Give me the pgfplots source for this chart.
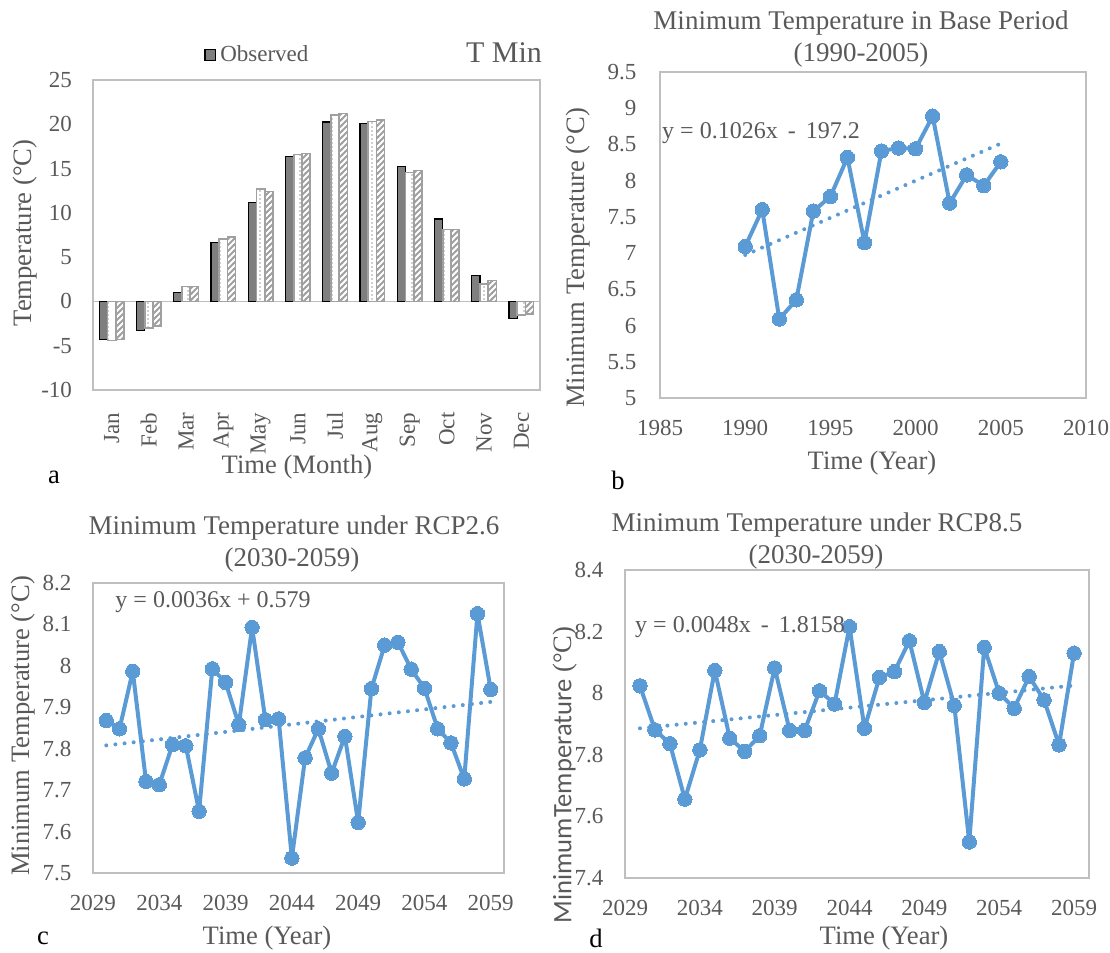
\documentclass[border=0pt]{standalone}
\usepackage{fontspec}
\setmainfont{Liberation Serif}
\newfontfamily\carlito{Carlito}
\usepackage{pgfplots}
\pgfplotsset{compat=1.18}
\usetikzlibrary{patterns}

\definecolor{xlblue}{RGB}{91,155,213}
\definecolor{txt}{RGB}{89,89,89}
\definecolor{framec}{RGB}{191,191,191}
\definecolor{obsfill}{RGB}{127,127,127}
\definecolor{patgray}{RGB}{160,160,160}

\pgfdeclarepatternformonly{vdotcol}{\pgfqpoint{-0.5pt}{-0.5pt}}{\pgfqpoint{4.5pt}{2.5pt}}{\pgfqpoint{4pt}{2pt}}{\pgfpathcircle{\pgfqpoint{2pt}{1pt}}{0.4pt}\pgfusepath{fill}}
\pgfdeclarepatternformonly{diagthick}{\pgfqpoint{-1pt}{-1pt}}{\pgfqpoint{4pt}{4pt}}{\pgfqpoint{3pt}{3pt}}{\pgfsetlinewidth{0.9pt}\pgfpathmoveto{\pgfqpoint{-0.3pt}{-0.3pt}}\pgfpathlineto{\pgfqpoint{3.3pt}{3.3pt}}\pgfusepath{stroke}}

\pgfplotsset{
  panel/.style={
    scale only axis,
    axis line style={draw=framec, line width=0.7pt},
    tick style={draw=none},
    ticklabel style={font=\fontsize{11.5}{13}\selectfont, text=txt},
    /pgf/number format/assume math mode=true,
    xticklabel style={/pgf/number format/1000 sep={}},
  },
  yearline/.style={color=xlblue, line width=2pt, line join=round, mark=*, mark size=3.6pt, mark options={fill=xlblue, draw=xlblue, line width=0pt}},
  trend/.style={color=xlblue, line width=2pt, line cap=round, dash pattern=on 0pt off 4.6pt},
}

\newcommand{\ttl}{\fontsize{13.5}{15}\selectfont}
\newcommand{\lbl}{\fontsize{13.3}{15}\selectfont}
\newcommand{\eqf}{\fontsize{12}{14}\selectfont}

\begin{document}
\begin{tikzpicture}
\useasboundingbox (0,0) rectangle (555pt,476.5pt);

% ---------------- Panel a ----------------
\begin{axis}[panel,
  at={(46.5pt,281.5pt)}, anchor=south west,
  width=223.5pt, height=155pt,
  ymin=-10, ymax=25, ytick={-10,-5,0,5,10,15,20,25},
  xmin=-0.5, xmax=11.5, xtick={0,...,11},
  xticklabels={Jan,Feb,Mar,Apr,May,Jun,Jul,Aug,Sep,Oct,Nov,Dec},
  xticklabel style={rotate=90, anchor=east, yshift=0pt, xshift=-3.5pt},
  yticklabel style={xshift=-7pt},
  ybar=0pt, bar width=4.1pt,
  extra y ticks={0}, extra y tick labels={},
  extra y tick style={grid=major, major grid style={draw=framec, line width=0.7pt}},
  legend style={at={(axis description cs:0.37,1.081)}, anchor=center, draw=none, fill=none,
    font=\fontsize{11.5}{13}\selectfont, text=txt, inner sep=0pt},
  legend image code/.code={\draw[#1] (0pt,-2.7pt) rectangle (5.4pt,2.7pt);},
]
\addplot[fill=obsfill, draw=black, line width=0.6pt] coordinates {
(0,-4.3) (1,-3.3) (2,1.0) (3,6.65) (4,11.2) (5,16.35) (6,20.25) (7,20.1) (8,15.2) (9,9.3) (10,2.9) (11,-1.95)};
\addlegendentry{Observed}
\addplot[draw=patgray, line width=0.8pt, pattern=vdotcol, pattern color=patgray] coordinates {
(0,-4.4) (1,-3.0) (2,1.7) (3,7.05) (4,12.7) (5,16.6) (6,21.05) (7,20.3) (8,14.55) (9,8.1) (10,2.0) (11,-1.5)};
\addplot[draw=patgray, line width=0.8pt, pattern=diagthick, pattern color=patgray] coordinates {
(0,-4.3) (1,-2.8) (2,1.7) (3,7.3) (4,12.4) (5,16.7) (6,21.2) (7,20.5) (8,14.8) (9,8.1) (10,2.35) (11,-1.4)};
\end{axis}
\node[text=txt, font=\fontsize{15}{17}\selectfont] at (252pt,450pt) {T Min};
\node[text=txt, font=\lbl] at (148.5pt,243pt) {Time (Month)};
\node[text=txt, font=\lbl, rotate=90] at (12.5pt,360pt) {Temperature (°C)};
\node[text=black, font=\lbl] at (27pt,238pt) {a};

% ---------------- Panel b ----------------
\begin{axis}[panel,
  at={(330pt,277.5pt)}, anchor=south west,
  width=213pt, height=163pt,
  xmin=1985, xmax=2010, xtick={1985,1990,1995,2000,2005,2010},
  ymin=5, ymax=9.5, ytick={5,5.5,6,6.5,7,7.5,8,8.5,9,9.5},
  yticklabel style={xshift=-8.3pt},
  xticklabel style={yshift=-7.7pt},
]
\addplot[trend] coordinates {(1990,6.974) (2005,8.513)};
\addplot[yearline] coordinates {
(1990,7.09) (1991,7.60) (1992,6.09) (1993,6.355) (1994,7.58) (1995,7.78) (1996,8.32) (1997,7.145)
(1998,8.41) (1999,8.45) (2000,8.44) (2001,8.89) (2002,7.69) (2003,8.08) (2004,7.93) (2005,8.26)};
\end{axis}
\node[text=txt, font=\ttl] at (430.5pt,465pt) {Minimum Temperature in Base Period};
\node[text=txt, font=\ttl] at (430.5pt,449pt) {(1990-2005)};
\node[text=txt, font=\lbl] at (436pt,245pt) {Time (Year)};
\node[text=txt, font=\lbl, rotate=90] at (289pt,347.5pt) {Minimum Temperature (°C)};
\node[text=black, font=\lbl] at (309pt,236.5pt) {b};
\node[text=txt, font=\eqf] at (380.5pt,410pt) {y = 0.1026x \,-\, 197.2};

% ---------------- Panel c ----------------
\begin{axis}[panel,
  at={(46.5pt,40pt)}, anchor=south west,
  width=205.5pt, height=145pt,
  xmin=2029, xmax=2060, xtick={2029,2034,2039,2044,2049,2054,2059},
  ymin=7.5, ymax=8.2, ytick={7.5,7.6,7.7,7.8,7.9,8,8.1,8.2},
  yticklabel style={xshift=-7.3pt},
  xticklabel style={yshift=-7.7pt},
]
\addplot[trend] coordinates {(2030,7.808) (2059,7.913)};
\addplot[yearline] coordinates {
(2030,7.868) (2031,7.848) (2032,7.987) (2033,7.721) (2034,7.713) (2035,7.810) (2036,7.807) (2037,7.649)
(2038,7.993) (2039,7.960) (2040,7.858) (2041,8.093) (2042,7.870) (2043,7.872) (2044,7.536) (2045,7.778)
(2046,7.848) (2047,7.741) (2048,7.830) (2049,7.622) (2050,7.945) (2051,8.050) (2052,8.057) (2053,7.992)
(2054,7.946) (2055,7.848) (2056,7.814) (2057,7.727) (2058,8.126) (2059,7.943)};
\end{axis}
\node[text=txt, font=\ttl] at (147pt,212.5pt) {Minimum Temperature under RCP2.6};
\node[text=txt, font=\ttl] at (146pt,196.5pt) {(2030-2059)};
\node[text=txt, font=\lbl] at (133.5pt,7.5pt) {Time (Year)};
\node[text=txt, font=\lbl, rotate=90] at (11.5pt,113.5pt) {Minimum Temperature (°C)};
\node[text=black, font=\lbl] at (21.5pt,7.5pt) {c};
\node[text=txt, font=\eqf] at (106.5pt,175.5pt) {y = 0.0036x + 0.579};

% ---------------- Panel d ----------------
\begin{axis}[panel,
  at={(312.5pt,37.5pt)}, anchor=south west,
  width=232pt, height=154pt,
  xmin=2029, xmax=2060, xtick={2029,2034,2039,2044,2049,2054,2059},
  ymin=7.4, ymax=8.4, ytick={7.4,7.6,7.8,8,8.2,8.4},
  yticklabel style={xshift=-7.3pt},
  xticklabel style={yshift=-7.7pt},
]
\addplot[trend] coordinates {(2030,7.886) (2059,8.025)};
\addplot[yearline] coordinates {
(2030,8.024) (2031,7.881) (2032,7.836) (2033,7.656) (2034,7.816) (2035,8.074) (2036,7.854) (2037,7.811)
(2038,7.862) (2039,8.082) (2040,7.879) (2041,7.879) (2042,8.008) (2043,7.965) (2044,8.216) (2045,7.886)
(2046,8.051) (2047,8.070) (2048,8.170) (2049,7.970) (2050,8.135) (2051,7.960) (2052,7.517) (2053,8.149)
(2054,8.000) (2055,7.951) (2056,8.054) (2057,7.978) (2058,7.832) (2059,8.130)};
\end{axis}
\node[text=txt, font=\ttl] at (408.5pt,214pt) {Minimum Temperature under RCP8.5};
\node[text=txt, font=\ttl] at (408pt,198pt) {(2030-2059)};
\node[text=txt, font=\lbl] at (442pt,7.5pt) {Time (Year)};
\node[text=txt, font=\lbl, rotate=90] at (282.5pt,89pt) {{\carlito MinimumTemperature} (°C)};
\node[text=black, font=\lbl] at (298pt,7.5pt) {d};
\node[text=txt, font=\eqf] at (370pt,163pt) {y = 0.0048x \,-\, 1.8158};
\end{tikzpicture}
\end{document}
